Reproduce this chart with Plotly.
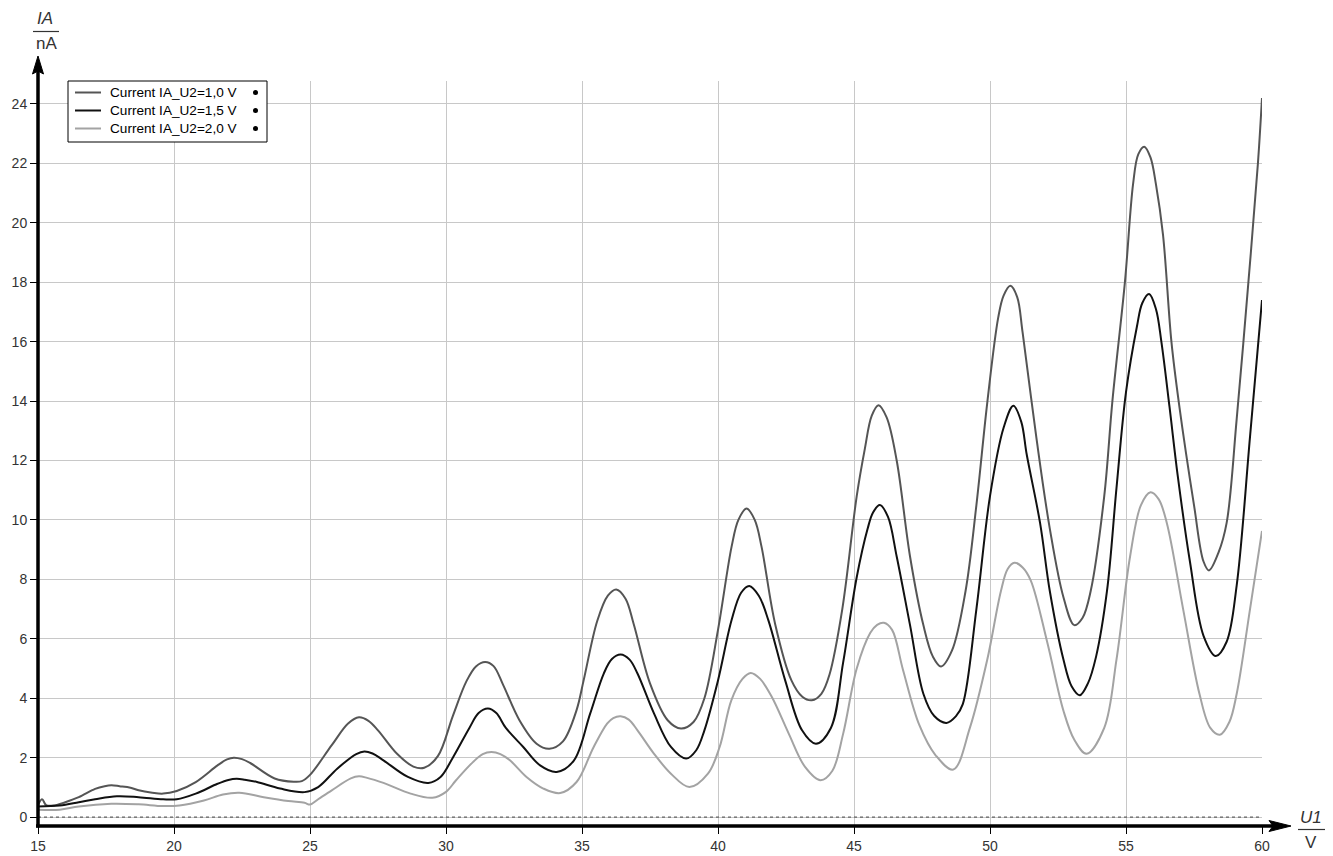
import plotly.graph_objects as go

# ---------------- data ----------------
u1_a = [15.0, 15.15, 15.3, 15.6, 16.0, 16.5, 17.1, 17.45, 17.7, 18.0, 18.4, 18.7, 19.2, 19.6, 20.1,
        20.8, 21.6, 21.95, 22.2, 22.5, 22.8, 23.7, 24.4, 24.7, 25.0, 25.8, 26.4, 26.8, 27.15, 27.5,
        28.2, 28.8, 29.2, 29.7, 30.25, 30.74, 31.1, 31.44, 31.75, 32.1, 32.7, 33.33, 33.8, 34.3,
        34.8, 35.06, 35.56, 35.95, 36.26, 36.6, 36.9, 37.5, 38.15, 38.64, 39.1, 39.5, 40.0, 40.5,
        40.75, 41.05, 41.35, 41.6, 42.1, 42.7, 43.1, 43.45, 43.8, 44.1, 44.57, 45.1, 45.4, 45.65,
        45.9, 46.2, 46.57, 47.06, 47.55, 47.9, 48.2, 48.6, 49.1, 49.5, 49.9, 50.3, 50.5, 50.75,
        51.0, 51.2, 51.7, 52.2, 52.7, 53.1, 53.4, 53.7, 54.2, 54.5, 54.96, 55.26, 55.45, 55.67,
        55.9, 56.1, 56.36, 56.67, 56.95, 57.5, 57.85, 58.05, 58.4, 58.7, 59.07, 59.5, 59.85, 60.0]
ia_a = [0.40, 0.60, 0.40, 0.39, 0.50, 0.67, 0.95, 1.04, 1.07, 1.04, 0.99, 0.90, 0.82, 0.79, 0.88,
        1.18, 1.74, 1.94, 2.00, 1.95, 1.82, 1.30, 1.19, 1.21, 1.42, 2.42, 3.15, 3.36, 3.24, 2.92,
        2.13, 1.70, 1.66, 2.05, 3.40, 4.55, 5.07, 5.22, 5.08, 4.45, 3.26, 2.47, 2.30, 2.55,
        3.60, 4.60, 6.60, 7.45, 7.66, 7.35, 6.50, 4.50, 3.26, 2.98, 3.20, 4.00, 6.30, 9.10,
        10.0, 10.38, 10.0, 9.10, 6.50, 4.60, 4.05, 3.93, 4.15, 4.80, 7.00, 10.8, 12.4, 13.5,
        13.86, 13.45, 12.0, 8.77, 6.46, 5.40, 5.07, 5.60, 7.60, 10.5, 13.95, 16.8, 17.55, 17.88,
        17.5, 16.3, 12.8, 9.7, 7.4, 6.46, 6.70, 7.60, 10.8, 14.0, 18.0, 21.3, 22.3, 22.56,
        22.2, 21.3, 19.6, 16.0, 13.9, 10.5, 8.6, 8.3, 8.9, 9.9, 13.4, 18.0, 22.0, 24.2]

u1_b = [15.0, 15.8, 16.5, 17.1, 17.9, 18.7, 19.6, 20.1, 20.8, 21.6, 22.0, 22.3, 22.6, 23.05, 23.9,
        24.8, 25.3, 26.0, 26.7, 27.0, 27.3, 27.7, 28.6, 29.35, 29.8, 30.25, 30.86, 31.2, 31.54,
        31.85, 32.2, 32.84, 33.46, 34.07, 34.7, 35.3, 35.8, 36.1, 36.42, 36.75, 37.04, 37.65,
        38.27, 38.83, 39.2, 39.5, 40.0, 40.5, 40.85, 41.15, 41.5, 41.85, 42.47, 43.09, 43.6,
        44.15, 44.6, 45.1, 45.5, 45.7, 45.95, 46.25, 46.57, 47.06, 47.55, 47.95, 48.4, 48.75,
        49.0, 49.5, 50.0, 50.5, 50.86, 51.15, 51.35, 51.84, 52.2, 52.7, 53.0, 53.3, 53.6, 53.9,
        54.3, 54.65, 55.0, 55.4, 55.6, 55.85, 56.1, 56.3, 56.6, 56.9, 57.35, 57.85, 58.3, 58.7,
        59.07, 59.56, 60.0]
ia_b = [0.36, 0.39, 0.50, 0.60, 0.70, 0.67, 0.60, 0.60, 0.79, 1.12, 1.25, 1.29, 1.26, 1.18, 0.96,
        0.84, 1.01, 1.63, 2.12, 2.21, 2.14, 1.91, 1.35, 1.15, 1.35, 2.00, 3.00, 3.50, 3.65,
        3.50, 3.00, 2.36, 1.74, 1.52, 1.90, 3.48, 4.83, 5.32, 5.47, 5.30, 4.83, 3.48,
        2.36, 1.97, 2.25, 2.92, 4.60, 6.63, 7.55, 7.78, 7.45, 6.63, 4.60, 2.92, 2.47,
        3.00, 5.20, 8.07, 9.70, 10.25, 10.5, 10.1, 8.77, 6.46, 4.15, 3.40, 3.17, 3.40,
        3.80, 7.00, 10.8, 13.1, 13.84, 13.3, 12.2, 9.9, 7.6, 5.3, 4.40, 4.10, 4.50, 5.40,
        7.60, 11.07, 14.3, 16.5, 17.3, 17.6, 17.1, 16.0, 13.8, 11.5, 8.6, 6.1, 5.42, 5.9,
        7.8, 12.8, 17.4]

u1_c = [15.0, 15.8, 16.5, 17.7, 18.7, 19.6, 20.2, 21.1, 21.8, 22.4, 23.3, 24.2, 24.8, 25.0, 25.3,
        25.8, 26.5, 26.8, 27.1, 27.7, 28.7, 29.5, 30.0, 30.37, 30.99, 31.35, 31.67, 32.0, 32.35,
        32.96, 33.58, 34.2, 34.8, 35.43, 35.93, 36.15, 36.42, 36.72, 37.04, 37.65, 38.27, 38.95,
        39.63, 40.06, 40.49, 40.9, 41.2, 41.55, 41.98, 42.6, 43.2, 43.77, 44.2, 44.6, 45.1, 45.6,
        45.85, 46.1, 46.4, 46.8, 47.4, 48.0, 48.65, 49.26, 49.9, 50.4, 50.65, 50.9, 51.2, 51.5,
        52.1, 52.7, 53.1, 53.55, 54.2, 54.65, 55.15, 55.55, 55.9, 56.2, 56.5, 57.1, 57.7, 58.1,
        58.45, 58.8, 59.07, 59.56, 60.0]
ia_c = [0.25, 0.25, 0.36, 0.45, 0.43, 0.37, 0.39, 0.56, 0.76, 0.82, 0.67, 0.54, 0.48, 0.42, 0.60,
        0.90, 1.30, 1.37, 1.32, 1.15, 0.79, 0.65, 0.85, 1.24, 1.85, 2.12, 2.19, 2.12, 1.91,
        1.35, 0.96, 0.81, 1.18, 2.36, 3.15, 3.33, 3.39, 3.28, 2.92, 2.13, 1.46, 1.01,
        1.46, 2.36, 3.93, 4.65, 4.85, 4.65, 4.04, 2.81, 1.69, 1.24, 1.55, 2.80, 5.00, 6.20,
        6.47, 6.54, 6.30, 4.96, 3.10, 2.08, 1.60, 3.00, 5.30, 7.60, 8.35, 8.56, 8.40, 7.96,
        5.90, 3.58, 2.60, 2.13, 3.00, 5.30, 8.77, 10.5, 10.93, 10.7, 9.90, 7.00, 4.15, 3.00,
        2.77, 3.20, 4.15, 7.00, 9.63]

series_names = ["Current IA_U2=1,0 V", "Current IA_U2=1,5 V", "Current IA_U2=2,0 V"]
series_colors = ["#555555", "#111111", "#a3a3a3"]
x_ticks = [15, 20, 25, 30, 35, 40, 45, 50, 55, 60]
y_ticks = [0, 2, 4, 6, 8, 10, 12, 14, 16, 18, 20, 22, 24]

# ---------------- layout geometry (page pixels) ----------------
W, H = 1333, 856
PL, PR, PT, PB = 38, 1262, 81, 826   # plot area


def px_x(px):
    return (px - PL) / (PR - PL)


def px_y(py):
    return (PB - py) / (PB - PT)


FONT = "Liberation Sans, Arial, sans-serif"
TXT = "#333333"

fig = go.Figure()
for xs, ys, name, col in zip([u1_a, u1_b, u1_c], [ia_a, ia_b, ia_c], series_names, series_colors):
    fig.add_trace(go.Scatter(
        x=xs, y=ys, mode="lines", name=name, showlegend=False,
        line=dict(color=col, width=2, shape="spline", smoothing=1.0),
        hoverinfo="x+y"))

shapes = []
# zero dashed line
shapes.append(dict(type="line", xref="x", yref="y", x0=15, x1=60, y0=0, y1=0,
                   line=dict(color="#444444", width=1, dash="3px,3px")))
# y axis line and arrow
shapes.append(dict(type="line", xref="paper", yref="paper", x0=0, x1=0,
                   y0=px_y(PB + 1.5), y1=px_y(66), line=dict(color="black", width=3.5)))
shapes.append(dict(type="path", xref="paper", yref="paper",
                   path=f"M {px_x(38)} {px_y(56)} L {px_x(43.5)} {px_y(74)} L {px_x(38)} {px_y(71)} L {px_x(32.5)} {px_y(74)} Z",
                   fillcolor="black", line=dict(color="black", width=1)))
# x axis line and arrow
shapes.append(dict(type="line", xref="paper", yref="paper", x0=px_x(PL - 2), x1=px_x(1276),
                   y0=0, y1=0, line=dict(color="black", width=3.5)))
shapes.append(dict(type="path", xref="paper", yref="paper",
                   path=f"M {px_x(1291)} {px_y(826)} L {px_x(1269)} {px_y(820.5)} L {px_x(1273)} {px_y(826)} L {px_x(1269)} {px_y(831.5)} Z",
                   fillcolor="black", line=dict(color="black", width=1)))
# fraction bars of the axis titles
shapes.append(dict(type="line", xref="paper", yref="paper", x0=px_x(33), x1=px_x(59),
                   y0=px_y(31.5), y1=px_y(31.5), line=dict(color=TXT, width=1.2)))
shapes.append(dict(type="line", xref="paper", yref="paper", x0=px_x(1298), x1=px_x(1325),
                   y0=px_y(829.5), y1=px_y(829.5), line=dict(color=TXT, width=1.2)))

annotations = [
    dict(text="<i>IA</i>", xref="paper", yref="paper", x=px_x(45), y=px_y(19), showarrow=False,
         xanchor="center", yanchor="middle", font=dict(family=FONT, size=17, color=TXT)),
    dict(text="nA", xref="paper", yref="paper", x=px_x(46), y=px_y(43), showarrow=False,
         xanchor="center", yanchor="middle", font=dict(family=FONT, size=17, color=TXT)),
    dict(text="<i>U1</i>", xref="paper", yref="paper", x=px_x(1311), y=px_y(817), showarrow=False,
         xanchor="center", yanchor="middle", font=dict(family=FONT, size=17, color=TXT)),
    dict(text="V", xref="paper", yref="paper", x=px_x(1311), y=px_y(842), showarrow=False,
         xanchor="center", yanchor="middle", font=dict(family=FONT, size=17, color=TXT)),
]

# ---------------- hand-built legend box ----------------
LEG_L, LEG_R, LEG_T, LEG_B = 68, 267, 81, 142
row_y = [92.5, 110.5, 128.5]
shapes.append(dict(type="rect", xref="paper", yref="paper",
                   x0=px_x(LEG_L), x1=px_x(LEG_R), y0=px_y(LEG_B), y1=px_y(LEG_T),
                   fillcolor="white", line=dict(color="black", width=1), layer="above"))
for ry, name, col in zip(row_y, series_names, series_colors):
    shapes.append(dict(type="line", xref="paper", yref="paper", x0=px_x(75), x1=px_x(101),
                       y0=px_y(ry), y1=px_y(ry), line=dict(color=col, width=2), layer="above"))
    shapes.append(dict(type="circle", xref="paper", yref="paper",
                       x0=px_x(253), x1=px_x(258), y0=px_y(ry + 2.5), y1=px_y(ry - 2.5),
                       fillcolor="black", line=dict(color="black", width=0), layer="above"))
    annotations.append(dict(text=name, xref="paper", yref="paper", x=px_x(108), y=px_y(ry),
                            showarrow=False, xanchor="left", yanchor="middle",
                            font=dict(family=FONT, size=13.6, color="black")))

fig.update_layout(
    width=W, height=H,
    margin=dict(l=PL, r=W - PR, t=PT, b=H - PB, pad=0, autoexpand=False),
    paper_bgcolor="white", plot_bgcolor="white",
    font=dict(family=FONT, size=14, color="black"),
    showlegend=False,
    shapes=shapes, annotations=annotations,
    xaxis=dict(range=[15, 60], tickmode="array", tickvals=x_ticks, ticktext=[str(v) for v in x_ticks],
               showgrid=True, gridcolor="#c8c8c8", gridwidth=1, zeroline=False, showline=False,
               automargin=False,
               ticks="outside", ticklen=7, tickwidth=1, tickcolor="black",
               tickfont=dict(family=FONT, size=14, color=TXT)),
    yaxis=dict(range=[-0.3, 24.77], tickmode="array", tickvals=y_ticks, ticktext=[str(v) for v in y_ticks],
               showgrid=True, gridcolor="#c8c8c8", gridwidth=1, zeroline=False, showline=False,
               automargin=False,
               ticks="outside", ticklen=7, tickwidth=1, tickcolor="black",
               tickfont=dict(family=FONT, size=14, color=TXT)),
)

# remove the default page margin so the 1333x856 figure fills the window exactly
fig.write_html("out.html", config={"displayModeBar": False},
               post_script="document.body.style.margin='0px';document.body.style.overflow='hidden';")
